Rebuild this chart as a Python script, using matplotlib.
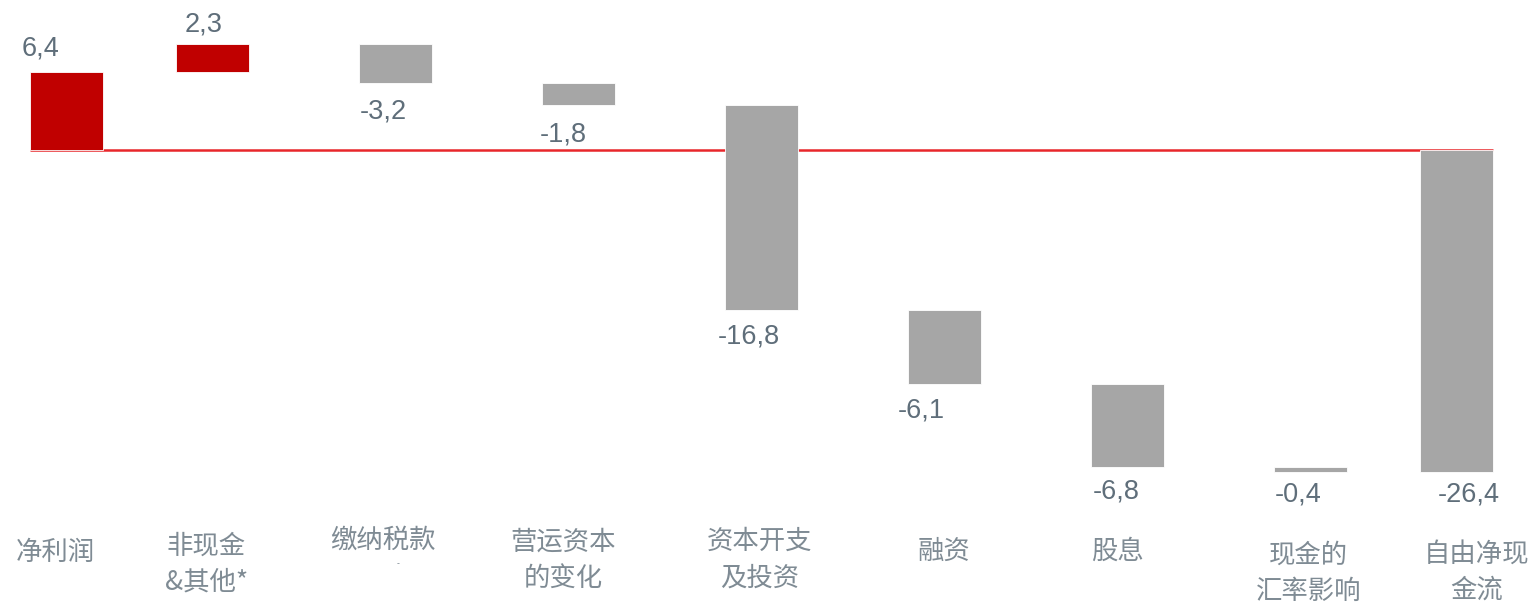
import matplotlib
matplotlib.use("Agg")
import matplotlib.pyplot as plt

plt.rcParams['font.family'] = ['Noto Sans CJK SC', 'DejaVu Sans']

# ---- data ----
categories = ["净利润", "非现金\n&其他*", "缴纳税款", "营运资本\n的变化", "资本开支\n及投资",
              "融资", "股息", "现金的\n汇率影响", "自由净现\n金流"]
values = [6.4, 2.3, -3.2, -1.8, -16.8, -6.1, -6.8, -0.4, -26.4]
value_labels = ["6,4", "2,3", "-3,2", "-1,8", "-16,8", "-6,1", "-6,8", "-0,4", "-26,4"]
is_total = [False, False, False, False, False, False, False, False, True]

# ---- layout ----
W, H = 1534, 605
px_per_unit = 12.2
zero_px = 150
xcent = [66.5, 212.5, 395.5, 578.5, 761.5, 944.5, 1127.5, 1310.5, 1456.5]
bar_w = 73
lab_dx = [-26, -9, -12, -15, -13, -23, -11, -12, 12]
lab_dy_px = [23, 19, 29, 30, 27, 26, 24, 22, 22]
cat_dx = [-11, -6, -13, -15, -2, -1, -10, -2, 20]
cat_y_px = [552, 564, 540, 560, 560, 551, 551, 573, 572]

fig = plt.figure(figsize=(W / 100, H / 100), dpi=100)
ax = fig.add_axes([0, 0, 1, 1])
ytop = zero_px / px_per_unit
ybot = -(H - zero_px) / px_per_unit
ax.set_xlim(0, W)
ax.set_ylim(ybot, ytop)
ax.axis('off')

def py(p):
    return (zero_px - p) / px_per_unit

red = '#c00000'
grey = '#a6a6a6'
num_col = '#5f6e7a'
cat_col = '#7f8b94'

ax.plot([30, 1493], [0, 0], color='#e8262b', lw=1.8, zorder=1, solid_capstyle='butt')

cum = 0.0
for i, v in enumerate(values):
    if is_total[i]:
        bottom, height = 0, v
    else:
        bottom, height = cum, v
        cum += v
    color = red if v > 0 else grey
    ax.bar(xcent[i], height, bottom=bottom, width=bar_w, color=color, zorder=2,
           edgecolor='white', linewidth=0.6)
    top = max(bottom, bottom + height)
    bot = min(bottom, bottom + height)
    if v > 0:
        ly = top + lab_dy_px[i] / px_per_unit
    else:
        ly = bot - lab_dy_px[i] / px_per_unit
    ax.text(xcent[i] + lab_dx[i], ly, value_labels[i], ha='center', va='center',
            fontsize=19.5, color=num_col, family=['Liberation Sans', 'DejaVu Sans'])
    ax.text(xcent[i] + cat_dx[i], py(cat_y_px[i]), categories[i], ha='center', va='center',
            fontsize=19, color=cat_col, linespacing=1.45, fontweight='light')

ax.text(xcent[2] + 3, py(564), "-", ha='center', va='center', fontsize=6, color=cat_col)

fig.savefig("out.png", dpi=100)
